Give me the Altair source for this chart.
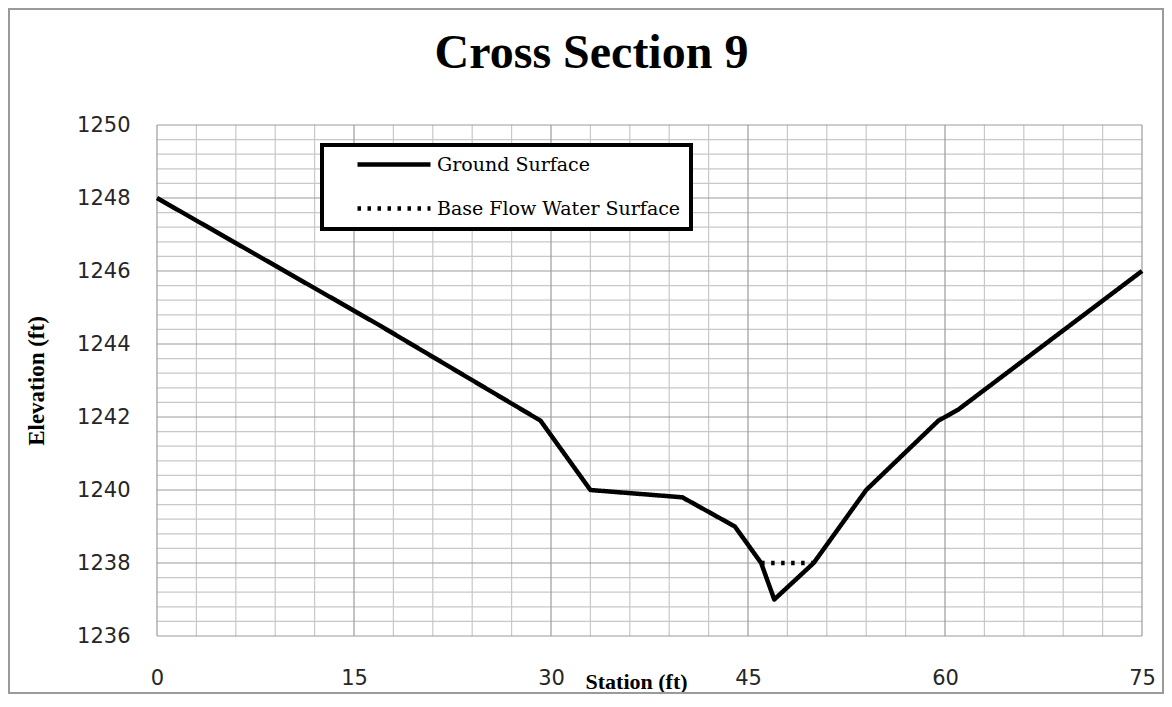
import altair as alt
import pandas as pd

# ---- data ----
station = [0, 17, 29.2, 33, 40, 44, 46, 47, 50, 54, 59.5, 61, 75]
elevation = [1248, 1244.5, 1241.9, 1240, 1239.8, 1239, 1238, 1237, 1238, 1240, 1241.9, 1242.2, 1246]
water_station = [46, 50]
water_elev = [1238, 1238]

series_names = ["Ground Surface", "Base Flow Water Surface"]

x_ticks = [0, 15, 30, 45, 60, 75]
y_ticks = [1236, 1238, 1240, 1242, 1244, 1246, 1248, 1250]
x_minor = [v for v in range(0, 76, 3) if v % 15 != 0]
y_minor = [round(1236 + 0.4 * i, 1) for i in range(36) if i % 5 != 0]

df = pd.DataFrame({
    "Station": station + water_station,
    "Elevation": elevation + water_elev,
    "Series": [series_names[0]] * len(station) + [series_names[1]] * len(water_station),
})

xs = alt.Scale(domain=[0, 75], nice=False, zero=False)
ys = alt.Scale(domain=[1236, 1250], nice=False, zero=False)

x_axis = alt.Axis(values=x_ticks, grid=False, ticks=False, tickSize=0, domain=False,
                  labelFont="DejaVu Sans", labelFontSize=21, labelColor="#262626",
                  labelPadding=31, labelFlush=False, labelOverlap=False, format="d",
                  titleFont="Liberation Serif", titleFontSize=22, titleFontWeight="bold",
                  titleColor="black", titleX=428, titleY=52, titleAlign="left",
                  titleBaseline="alphabetic", titleAnchor="start")
y_axis = alt.Axis(values=y_ticks, grid=False, ticks=False, tickSize=0, domain=False,
                  labelFont="DejaVu Sans", labelFontSize=21, labelColor="#262626",
                  labelPadding=27, labelFlush=False, labelOverlap=False, format="d",
                  titleFont="Liberation Serif", titleFontSize=23, titleFontWeight="bold",
                  titleColor="black", titleX=-121, titleY=255.5, titleAngle=270,
                  titleAlign="center", titleBaseline="middle")


def X(field):
    return alt.X(field, type="quantitative", scale=xs, axis=x_axis, title="Station (ft)")


def Y(field):
    return alt.Y(field, type="quantitative", scale=ys, axis=y_axis, title="Elevation (ft)")


minor_v = alt.Chart(pd.DataFrame({"v": x_minor})).mark_rule(
    color="#c8c8c8", strokeWidth=1.2).encode(x=X("v"))
minor_h = alt.Chart(pd.DataFrame({"h": y_minor})).mark_rule(
    color="#c8c8c8", strokeWidth=1.2).encode(y=Y("h"))
major_v = alt.Chart(pd.DataFrame({"v": x_ticks})).mark_rule(
    color="#9c9c9c", strokeWidth=1.2).encode(x=X("v"))
major_h = alt.Chart(pd.DataFrame({"h": y_ticks})).mark_rule(
    color="#9c9c9c", strokeWidth=1.2).encode(y=Y("h"))

border = alt.Chart(pd.DataFrame({"b": [0]})).mark_rect(
    fill=None, stroke="#9a9a9a", strokeWidth=2).encode(
    x=alt.value(-148), x2=alt.value(1006), y=alt.value(-116), y2=alt.value(568))

lines = alt.Chart(df).mark_line(color="black", strokeWidth=4.5, strokeJoin="round").encode(
    x=X("Station"),
    y=Y("Elevation"),
    strokeDash=alt.StrokeDash(
        "Series:N",
        scale=alt.Scale(domain=series_names, range=[[1, 0], [3.5, 6.5]]),
        legend=alt.Legend(
            title=None, orient="none", legendX=165, legendY=20,
            symbolType="stroke", symbolSize=5329, symbolStrokeWidth=4.5,
            symbolStrokeColor="black", symbolOffset=23, labelOffset=4,
            labelFont="DejaVu Serif", labelFontSize=19, labelColor="black",
            clipHeight=19, rowPadding=24, labelLimit=500,
            labelExpr="datum.label + '\u00a0\u00a0\u00a0\u00a0\u00a0\u00a0'",
        ),
    ),
)

chart = alt.layer(border, minor_v, minor_h, major_v, major_h, lines).properties(
    width=985, height=511,
    autosize=alt.AutoSizeParams(type="none"),
    padding={"left": 149, "top": 117, "right": 22, "bottom": 58},
    background="white",
    title=alt.TitleParams(
        "Cross Section 9", font="Liberation Serif", fontSize=48, fontWeight="bold",
        color="black", anchor="middle", frame="group", dx=-58, dy=108, offset=0,
        baseline="alphabetic",
    ),
).configure_view(stroke=None).configure_legend(
    padding=10, strokeColor="black", strokeWidth=4, fillColor="white", cornerRadius=0,
)

chart.save("out.html", embed_options={"renderer": "svg", "actions": False})
